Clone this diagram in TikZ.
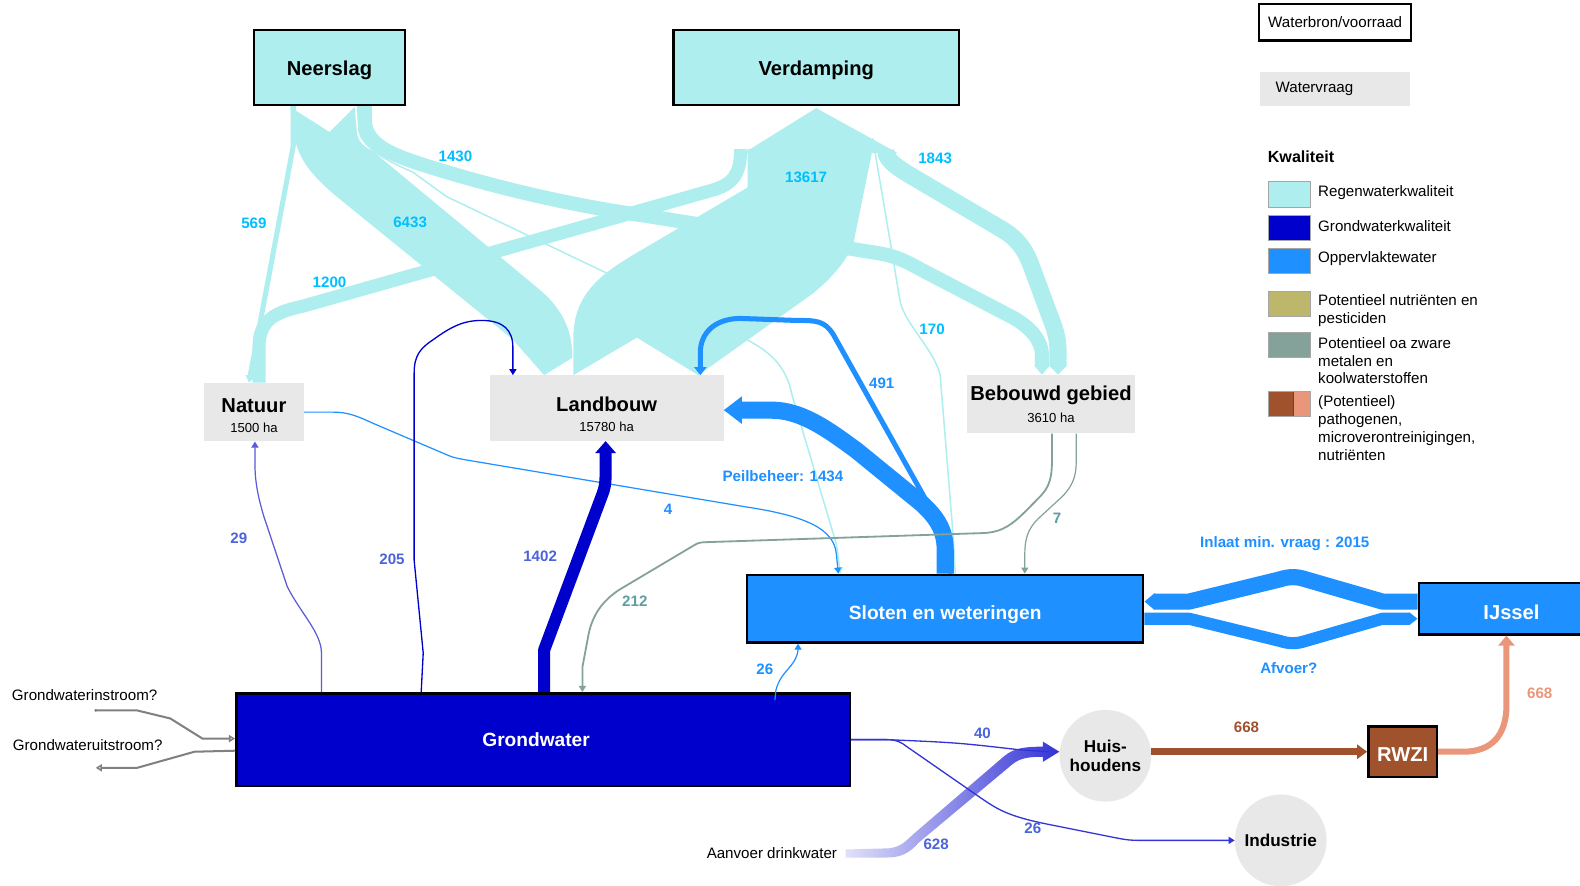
\documentclass[tikz,border=0pt]{standalone}
\usepackage{fontspec}
\setmainfont{Liberation Sans}
\usetikzlibrary{arrows.meta, positioning, calc}
\definecolor{regen}{HTML}{AFEEEE}
\definecolor{grond}{HTML}{0000CD}
\definecolor{opp}{HTML}{1E90FF}
\definecolor{nutri}{HTML}{BDB76B}
\definecolor{metaal}{HTML}{84A29A}
\definecolor{patho}{HTML}{A0522D}
\definecolor{pathlt}{HTML}{E9967A}
\definecolor{vraag}{HTML}{E8E8E8}
\definecolor{lblcyan}{HTML}{00BFFF}
\definecolor{lblblue}{HTML}{4B63DB}
\definecolor{lblteal}{HTML}{5F9EA0}
\definecolor{gwthin}{HTML}{5A5ADA}

\begin{document}
\begin{tikzpicture}[x=1pt, y=-1pt,
  every node/.style={font=\fontsize{15}{18}\selectfont, text=black},
  srcbox/.style={draw=black, line width=2.5pt, fill=regen, text height=15.5pt, text depth=0pt,
    font=\fontsize{20}{24}\selectfont\bfseries},
  vrbox/.style={fill=vraag, align=center,
    font=\fontsize{20}{22}\selectfont\bfseries},
  wbox/.style={draw=black, line width=2.5pt, fill=opp, text=white,
    font=\fontsize{19}{23}\selectfont\bfseries},
  usebol/.style={circle, fill=vraag, minimum size=91pt, inner sep=0pt,
    align=center, font=\fontsize{17}{19}\selectfont\bfseries},
  num/.style={font=\fontsize{15}{18}\selectfont\bfseries},
  band/.style={line cap=butt, line join=round},
  pijl/.style={-{Triangle[length=6pt,width=7pt]}},
  swatch/.style={draw=gray!70, line width=1pt, minimum width=42pt,
    minimum height=25pt, inner sep=0pt},
  legtxt/.style={anchor=west, align=left, inner sep=0pt,
    font=\fontsize{15}{17.7}\selectfont},
]

% Background
\fill[white] (0,0) rectangle (1568,879);
\useasboundingbox (0,0) rectangle (1568,879);

% Water sources
\node[srcbox, minimum width=150pt, minimum height=74pt] (neer) at (327,67) {Neerslag};
\node[srcbox, minimum width=283pt, minimum height=74pt] (verd) at (810,67) {Verdamping};

% Water demand
\node[vrbox, minimum width=99pt, minimum height=58pt] (nat) at (252,409)
  {\rule{0pt}{20.3pt}Natuur\\[-2pt]{\mdseries\fontsize{13}{15}\selectfont 1500 ha}};
\node[vrbox, minimum width=232pt, minimum height=65pt] (land) at (602,405)
  {\rule{0pt}{26.5pt}Landbouw\\[-2pt]{\mdseries\fontsize{13}{15}\selectfont 15780 ha}};
\node[vrbox, minimum width=166pt, minimum height=58pt] (beb) at (1043,401)
  {Bebouwd gebied\\{\mdseries\fontsize{13}{15}\selectfont 3610 ha}};

% Surface water and groundwater
\node[wbox, minimum width=393pt, minimum height=67pt, text height=20.6pt, text depth=0pt]
  (sloot) at (938,604) {Sloten en weteringen};
\node[wbox, minimum width=184pt, minimum height=51pt, text height=21.3pt, text depth=0pt,
  font=\fontsize{20}{24}\selectfont\bfseries] (ijs) at (1500,604) {IJssel};
\node[wbox, fill=grond, minimum width=609pt, minimum height=92pt] (gw) at (539,734)
  {Grondwater\hspace*{14pt}};

% Users and treatment
\node[usebol] (huis) at (1097,750) {Huis-\\houdens};
\node[usebol] (ind) at (1271,834) {Industrie};
\node[wbox, fill=patho, minimum width=68pt, minimum height=50pt, text height=20.3pt, text depth=0pt,
  font=\fontsize{20}{24}\selectfont\bfseries] (rwzi) at (1392,746) {RWZI};

% Loose text
\node (aanv) at (766,847) {Aanvoer drinkwater};
\node (gin) at (84,690) {Grondwaterinstroom?};
\node (guit) at (87,739) {Grondwateruitstroom?};
\coordinate (ginbron) at (95,705);
\coordinate (guitend) at (95,762);

% Rainwater bands: Landbouw -> Verdamping
\fill[regen] ($(land.north)+(-33,0)$) -- (632,335) -- ($(land.north)+(91,0)$) -- (807,291)
  .. controls (830,272) and (842,255) .. (847,241) -- (866,148) -- (742,148) -- (742,186)
  -- (630,252) .. controls (600,270) and (569,290) .. (569,335) -- cycle;
\fill[regen] (738,152) -- ($(verd.south)+(0,2)$) -- (891,152) -- cycle;

% Neerslag -> Landbouw
\fill[regen] ($(neer.south)+(-39,1)$) -- (327,131) -- ($(neer.south)+(25,1)$) -- (354,130)
  .. controls (355,140) and (360,145) .. (370,150) -- (535,287)
  .. controls (560,308) and (568,330) .. (568,355) -- ($(land.north)+(-62,0)$)
  -- (509,337) -- (334,195) .. controls (310,175) and (292,155) .. (291,125) -- cycle;

% Neerslag -> Natuur, Natuur -> Verdamping
\draw[band, regen, line width=5pt, -{Triangle[length=7pt,width=9pt]}]
  ($(neer.south)+(-36,0)$) -- (291,145) -- ($(nat.north)+(-5,0)$);
\draw[band, regen, line width=13pt] ($(nat.north)+(5,0)$) -- (257,345)
  .. controls (257,318) and (272,310) .. (300,304) -- (706,189)
  .. controls (728,183) and (735,172) .. (735,148);

% Neerslag -> Bebouwd gebied, Bebouwd gebied <-> Verdamping
\draw[band, regen, line width=14pt, -{Triangle[length=9pt,width=15pt]}]
  ($(neer.south)+(35,0)$) -- (362,118) .. controls (362,142) and (385,152) .. (415,162)
  .. controls (480,183) and (560,203) .. (640,214) -- (870,251)
  .. controls (890,254) and (900,260) .. (915,268) -- (1005,315)
  .. controls (1025,326) and (1034,340) .. (1034,352) -- ($(beb.north)+(-9,0)$);
\draw[band, regen, line width=17pt, -{Triangle[length=9pt,width=17pt]}]
  ($(verd.south)+(69,44)$) .. controls (879,158) and (888,165) .. (905,175) -- (995,228)
  .. controls (1010,237) and (1017,248) .. (1022,260) -- (1045,322)
  .. controls (1049,333) and (1050,340) .. (1050,352) -- ($(beb.north)+(7,0)$);

% Thin rainwater lines to Sloten
\draw[regen, line width=1.5pt] ($(verd.south)+(56,32)$) -- (886,255) -- (893,298)
  .. controls (898,322) and (926,345) .. (933,372) -- (946,533) -- ($(sloot.north)+(10,0)$);
\draw[regen, line width=1.5pt, pijl] ($(neer.south)+(28,0)$) -- (356,128)
  .. controls (358,145) and (380,158) .. (410,171) -- (443,195) -- (600,270)
  -- (737,335) .. controls (770,351) and (781,368) .. (786,392)
  -- (830,540) -- ($(sloot.north)+(-104,0)$);

% Surface water flows
\draw[band, opp, line width=17pt, -{Triangle[length=18pt,width=26pt]}]
  (sloot.north) -- (938,545) .. controls (938,525) and (928,512) .. (915,500) -- (850,447)
  .. controls (820,425) and (795,407) .. (765,407) -- ($(land.east)+(0,2)$);
\draw[band, opp, line width=5pt, -{Triangle[length=8pt,width=12pt]}]
  ($(sloot.north)+(6,0)$) -- (935,525) -- (827,332) .. controls (818,318) and (810,318) .. (790,318)
  -- (735,316) .. controls (710,316) and (695,330) .. (695,350) -- ($(land.north)+(93,0)$);
\draw[opp, line width=1.2pt, pijl] (nat.east) -- (331,409)
  .. controls (345,409) and (355,413) .. (370,420) -- (445,452) .. controls (450,454) .. (460,456)
  -- (740,503) .. controls (800,512) and (828,525) .. (830,550) -- ($(sloot.north)+(-106,0)$);
\draw[opp, line width=1.2pt, pijl] ($(gw.north)+(230,8)$) -- (770,685)
  .. controls (775,665) and (790,662) .. (792,645) -- ($(sloot.south)+(-146,0)$);

% Sloten <-> IJssel
\draw[band, opp, line width=16pt, -{Triangle[length=10pt,width=16pt]}]
  ($(ijs.west)+(0,-7)$) -- (1372,597) -- (1296,575) .. controls (1287,572) and (1279,572) .. (1270,575)
  -- (1180,597) -- ($(sloot.east)+(0,-7)$);
\draw[band, opp, line width=12pt, -{Triangle[length=8pt,width=12pt]}]
  ($(sloot.east)+(0,10)$) -- (1180,614) -- (1270,636) .. controls (1279,639) and (1287,639) .. (1296,636)
  -- (1372,614) -- ($(ijs.west)+(0,10)$);

% Groundwater flows
\draw[gwthin, line width=1.2pt, pijl] ($(gw.north)+(-220,0)$) -- (319,648)
  .. controls (319,628) and (298,608) .. (285,582) -- (262,513)
  .. controls (255,490) and (253,475) .. (253,460) -- ($(nat.south)+(1,0)$);
\draw[grond, line width=1.3pt, pijl] ($(gw.north)+(-121,0)$) -- (420,648) -- (411,556) -- (411,370)
  .. controls (411,352) and (418,345) .. (430,337) .. controls (448,324) and (460,318) .. (478,318)
  .. controls (500,318) and (509,328) .. (509,345) -- ($(land.north)+(-93,0)$);
\draw[band, grond, line width=12pt, -{Triangle[length=12pt,width=20pt]}]
  ($(gw.north)+(1,0)$) -- (540,645) -- (598,490) .. controls (600,485) and (601,480) .. (601,470)
  -- ($(land.south)+(-1,0)$);

% Bebouwd gebied runoff
\draw[metaal, line width=1.8pt, pijl] ($(beb.south)+(1,0)$) -- (1044,456)
  .. controls (1044,478) and (1040,485) .. (1030,495) .. controls (1010,515) and (1000,528) .. (976,529)
  -- (702,538) .. controls (695,538) and (692,539) .. (689,541) -- (615,585)
  .. controls (598,596) and (588,610) .. (584,630) -- (578,662) -- ($(gw.north)+(39,0)$);
\draw[metaal, line width=1.2pt, pijl] ($(beb.south)+(25,0)$) -- (1068,459)
  .. controls (1068,475) and (1063,483) .. (1055,492) -- (1030,515)
  .. controls (1020,525) and (1017,535) .. (1017,550) -- ($(sloot.north)+(79,0)$);

% Groundwater in/out
\draw[gray, line width=2pt, -{Triangle[open, length=6pt, width=7pt]}]
  (ginbron) -- (136,705) -- (169,713) -- (201,733) -- ($(gw.west)+(0,-1)$);
\fill[gray] (ginbron) circle (1.5);
\draw[gray, line width=2pt, -{Triangle[open, length=6pt, width=7pt]}]
  ($(gw.west)+(0,11)$) -- (193,746) -- (136,762) -- (guitend);

% Drinking water
\shade[left color=grond!12, right color=grond!80] ($(aanv.east)+(5,-4)$) -- (878,842)
  .. controls (890,842) and (896,838) .. (905,829) -- (997,750)
  .. controls (1007,742) and (1018,741) .. (1035,741) -- (1035,736) -- ($(huis.west)+(0,-4)$)
  -- (1035,756) -- (1035,751) .. controls (1022,751) and (1012,752) .. (1004,759) -- (912,836)
  .. controls (903,846) and (895,851) .. (880,851) -- ($(aanv.east)+(5,4)$) -- cycle;
\draw[grond!80, line width=1.3pt] (gw.east) -- (880,734) .. controls (950,737) .. (1011,744)
  -- ($(huis.west)+(-11,-4)$);
\draw[grond!80, line width=1.3pt, pijl] (gw.east) -- (880,734) .. controls (890,734) and (895,737) .. (900,741)
  -- (975,793) .. controls (990,803) and (1000,810) .. (1040,818) -- (1100,830)
  .. controls (1120,834) .. (1140,834) -- (ind.west);

% Waste water
\draw[band, patho, line width=7pt, -{Triangle[length=10pt,width=14pt]}]
  ($(huis.east)+(0,-4)$) -- (rwzi.west);
\draw[band, pathlt, line width=6pt, -{Triangle[length=10pt,width=16pt]}]
  (rwzi.east) -- (1452,746) .. controls (1480,746) and (1495,730) .. (1495,700) -- ($(ijs.south)+(-5,0)$);

% Flow labels
\node[num, text=lblcyan] (l1430) at (452,155) {1430};
\node[num, text=lblcyan] (l569) at (252,222) {569};
\node[num, text=lblcyan] (l6433) at (407,221) {6433};
\node[num, text=lblcyan] (l1200) at (327,280) {1200};
\node[num, text=lblcyan] (l13617) at (800,176) {13617};
\node[num, text=lblcyan] (l1843) at (928,157) {1843};
\node[num, text=lblcyan] (l170) at (925,327) {170};
\node[num, text=opp] (l491) at (875,380) {491};
\node[num, text=opp] (lpeil) at (777,472) {Peilbeheer: 1434};
\node[num, text=opp] (l4) at (663,505) {4};
\node[num, text=opp] (l26a) at (759,664) {26};
\node[num, text=opp] (linlaat) at (1275,539) {Inlaat min. vraag : 2015};
\node[num, text=opp] (lafvoer) at (1279,663) {Afvoer?};
\node[num, text=lblteal] (l7) at (1049,514) {7};
\node[num, text=lblteal] (l212) at (630,597) {212};
\node[num, text=lblblue] (l29) at (237,534) {29};
\node[num, text=lblblue] (l205) at (389,555) {205};
\node[num, text=lblblue] (l1402) at (536,552) {1402};
\node[num, text=lblblue] (l40) at (975,728) {40};
\node[num, text=lblblue] (l26b) at (1025,822) {26};
\node[num, text=lblblue] (l628) at (929,838) {628};
\node[num, text=patho] (l668a) at (1237,722) {668};
\node[num, text=pathlt] (l668b) at (1528,688) {668};

% Legend
\node[draw=black, line width=2.5pt, fill=white, minimum width=151pt, minimum height=36pt]
  (lgbron) at (1325,22) {Waterbron/voorraad};
\node[fill=vraag, minimum width=149pt, minimum height=34pt, text width=118pt, align=left]
  (lgvraag) at (1325,88) {Watervraag};
\node[anchor=west, inner sep=0pt, font=\fontsize{16}{19}\selectfont\bfseries] (lgkwal) at (1258,156) {Kwaliteit};
\node[swatch, fill=regen] (sw1) at (1280,193) {};
\node[legtxt] (lt1) at (1308,191) {Regenwaterkwaliteit};
\node[swatch, fill=grond] (sw2) at (1280,226) {};
\node[legtxt] (lt2) at (1308,224) {Grondwaterkwaliteit};
\node[swatch, fill=opp] (sw3) at (1280,259) {};
\node[legtxt] (lt3) at (1308,257) {Oppervlaktewater};
\node[swatch, fill=nutri] (sw4) at (1280,302) {};
\node[legtxt] (lt4) at (1308,308) {Potentieel nutriënten en\\pesticiden};
\node[swatch, fill=metaal] (sw5) at (1280,342) {};
\node[legtxt] (lt5) at (1308,358) {Potentieel oa zware\\metalen en\\koolwaterstoffen};
\node[swatch, fill=pathlt, path picture={
    \fill[patho] (path picture bounding box.south west)
      rectangle ($(path picture bounding box.north west)+(25,0)$);
    \draw[black!70, line width=1pt] ($(path picture bounding box.south west)+(25,0)$)
      -- ($(path picture bounding box.north west)+(25,0)$);}] (sw6) at (1280,401) {};
\node[legtxt] (lt6) at (1308,425) {(Potentieel)\\pathogenen,\\microverontreinigingen,\\nutriënten};

\end{tikzpicture}
\end{document}
